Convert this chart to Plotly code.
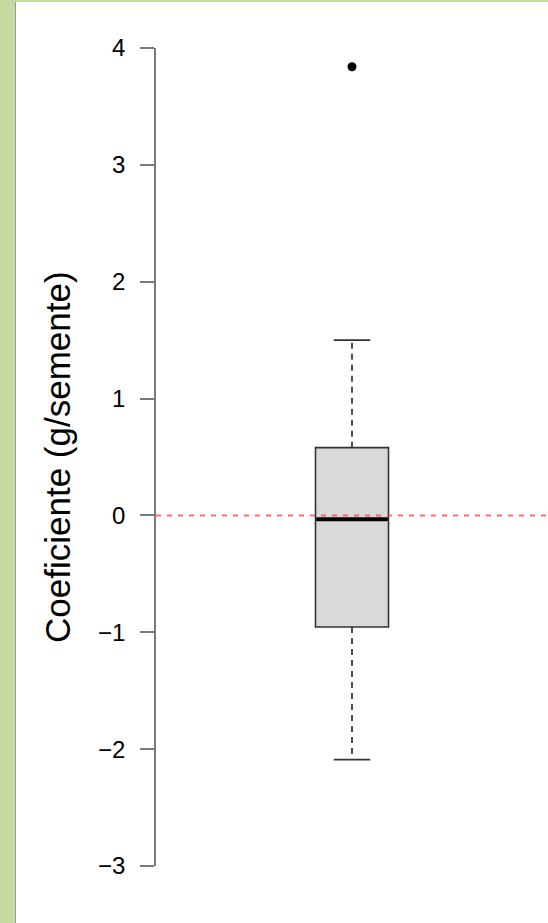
import plotly.graph_objects as go

# ---- data ----
group_pos = [1]
q1_vals = [-0.955]
median_vals = [-0.033]
q3_vals = [0.58]
lower_whisker = [-2.09]
upper_whisker = [1.50]
outliers_y = [3.84]
ref_line = 0
y_ticks = [-3, -2, -1, 0, 1, 2, 3, 4]
y_title = "Coeficiente (g/semente)"

# ---- layout geometry (pixels) ----
W, H = 548, 923
ML, MR, MT, MB = 156, 0, 48, 57
PW, PH = W - ML - MR, H - MT - MB
BOX_W = 73 / PW * 2.0          # box width in x data units (x range 0..2)
HW = BOX_W / 2
CAP = HW / 2


def px_x(p):
    return (p - ML) / PW


def px_y(p):
    return (H - MB - p) / PH


FONT = "Liberation Sans, Arial, sans-serif"

fig = go.Figure()

# box (no whiskers: fences equal to the quartiles)
fig.add_trace(go.Box(
    x=group_pos, q1=q1_vals, median=median_vals, q3=q3_vals,
    lowerfence=q1_vals, upperfence=q3_vals,
    width=BOX_W, whiskerwidth=0,
    fillcolor="#d9d9d9", line=dict(color="#333333", width=1.6),
    boxpoints=False, hoverinfo="skip", showlegend=False,
))

for i, xc in enumerate(group_pos):
    # dashed whiskers
    fig.add_trace(go.Scatter(
        x=[xc, xc, None, xc, xc],
        y=[q3_vals[i], upper_whisker[i], None, q1_vals[i], lower_whisker[i]],
        mode="lines", line=dict(color="#222222", width=1.6, dash="6px,5px"),
        hoverinfo="skip", showlegend=False,
    ))
    # whisker caps
    fig.add_trace(go.Scatter(
        x=[xc - CAP, xc + CAP, None, xc - CAP, xc + CAP],
        y=[upper_whisker[i], upper_whisker[i], None, lower_whisker[i], lower_whisker[i]],
        mode="lines", line=dict(color="#333333", width=1.6),
        hoverinfo="skip", showlegend=False,
    ))
    # thick median
    fig.add_trace(go.Scatter(
        x=[xc - HW + 0.004, xc + HW - 0.004],
        y=[median_vals[i], median_vals[i]],
        mode="lines", line=dict(color="#000000", width=4),
        hoverinfo="skip", showlegend=False,
    ))

# outlier
fig.add_trace(go.Scatter(
    x=group_pos * len(outliers_y), y=outliers_y, mode="markers",
    marker=dict(color="#000000", size=9),
    hoverinfo="skip", showlegend=False,
))

shapes = [
    # red reference line
    dict(type="line", xref="paper", yref="y", x0=0, x1=1, y0=ref_line, y1=ref_line,
         line=dict(color="rgba(255,60,60,0.75)", width=2, dash="5px,6px"), layer="above"),
    # green frame: left strip and top strip
    dict(type="rect", xref="paper", yref="paper",
         x0=px_x(0), x1=px_x(15), y0=px_y(H), y1=px_y(0),
         fillcolor="#c6d99e", line=dict(width=0), layer="below"),
    dict(type="rect", xref="paper", yref="paper",
         x0=px_x(0), x1=px_x(W), y0=px_y(2), y1=px_y(0),
         fillcolor="#c6d99e", line=dict(width=0), layer="below"),
    dict(type="line", xref="paper", yref="paper",
         x0=px_x(15.5), x1=px_x(15.5), y0=px_y(H), y1=px_y(2),
         line=dict(color="#9a9a9a", width=1), layer="below"),
]

fig.update_layout(
    width=W, height=H,
    margin=dict(l=ML, r=MR, t=MT, b=MB, pad=0),
    paper_bgcolor="white", plot_bgcolor="white",
    font=dict(family=FONT, color="#000000"),
    shapes=shapes,
    xaxis=dict(range=[0, 2], visible=False, fixedrange=True),
    yaxis=dict(
        range=[y_ticks[0], y_ticks[-1]], tickvals=y_ticks,
        showline=True, linecolor="#7a7a7a", linewidth=1.6,
        ticks="outside", ticklen=14, tickwidth=1.6, tickcolor="#7a7a7a",
        tickfont=dict(size=24, family=FONT, color="#000000"),
        ticklabelstandoff=10,
        showgrid=False, zeroline=False, fixedrange=True,
    ),
    annotations=[dict(
        text=y_title, textangle=-90, showarrow=False,
        xref="paper", yref="paper", x=px_x(57), y=0.5,
        xanchor="center", yanchor="middle",
        font=dict(size=35, family=FONT, color="#000000"),
    )],
)

fig.write_html(
    "out.html",
    config={"displayModeBar": False},
    post_script="document.body.style.margin='0px';document.body.style.overflow='hidden';",
)
